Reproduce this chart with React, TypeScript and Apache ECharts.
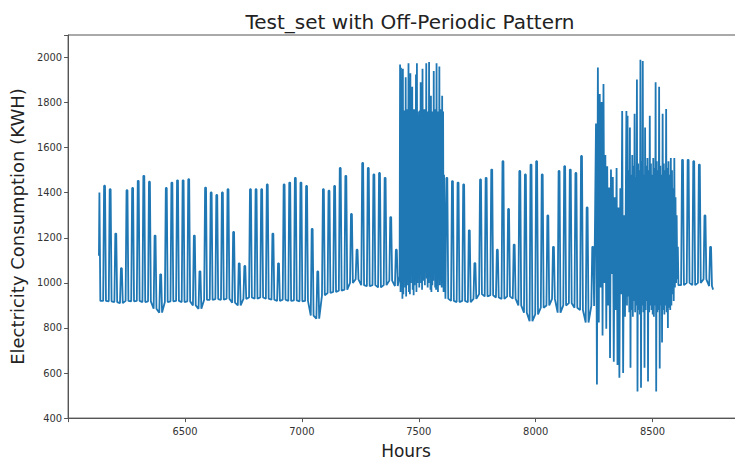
import React, { useEffect, useRef } from "react";
import * as echarts from "echarts";

// ---- data ----
const titleText = "Test_set with Off-Periodic Pattern";
const xAxisName = "Hours";
const yAxisName = "Electricity Consumption (KWH)";
const xTicks = [6500, 7000, 7500, 8000, 8500];
const yTicks = [400, 600, 800, 1000, 1200, 1400, 1600, 1800, 2000];

const startHour = 6132;
const startValue = 1120;
const endHour = 8759;
const endValue = 970;
const firstDay = 255; // day index of the year (hour / 24)

// daily peak / night trough (null = irregular period, see chaos arrays)
const dayPeak: (number | null)[] = [
  1401, 1431, 1416, 1219, 1065, // 255-259
  1411, 1421, 1453, 1475, 1449, 1210, 1038, // 260-266
  1421, 1445, 1455, 1455, 1460, 1210, 1051, // 267-273
  1423, 1401, 1390, 1401, 1416, 1226, 1087, // 274-280
  1075, 1416, 1416, 1416, 1437, 1219, 1087, // 281-287
  1437, 1445, 1466, 1445, 1430, 1240, 1051, // 288-294
  1416, 1409, 1430, 1510, 1475, 1306, 1147, // 295-301
  1532, 1510, 1481, 1488, 1466, 1292, 1147, // 302-308
  null, null, null, null, null, null, null, // 309-315
  null, 1466, 1452, 1445, 1437, 1233, 1088, // 316-322
  1459, 1466, 1503, 1147, 1540, 1328, 1170, // 323-329
  1497, 1481, 1525, 1540, 1481, 1299, 1160, // 330-336
  1497, 1518, 1503, 1488, 1563, 1335, 1160, // 337-343
  null, null, null, null, null, null, null, // 344-350
  null, null, null, null, null, null, null, // 351-357
  null, 1546, 1546, 1540, 1525, 1299, 1160, // 358-364
];
const dayLow: (number | null)[] = [
  920, 920, 918, 915, 910,
  920, 918, 920, 915, 918, 885, 868,
  915, 918, 920, 915, 918, 900, 885,
  925, 925, 928, 925, 930, 912, 900,
  929, 935, 930, 935, 930, 925, 920,
  925, 920, 922, 918, 920, 855, 841,
  945, 955, 960, 965, 970, 1000, 1016,
  990, 985, 990, 980, 990, 1010, 986,
  null, null, null, null, null, null, null,
  null, 930, 920, 915, 920, 914, 929,
  950, 940, 945, 935, 929, 940, 930,
  900, 868, 830, 860, 890, 900, 929,
  868, 900, 910, 890, 880, 824, 898,
  null, null, null, null, null, null, null,
  null, null, null, null, null, null, null,
  null, 990, 1000, 990, 1000, 1016, 986,
];

// irregular block 1 (around hours 7420-7605)
const chaos1Start = 7418;
const chaos1Peaks = [
  1969, 1955, 1760, 1950, 1765, 1740, 1912, 1760, 1770, 1975,
  1750, 1930, 1760, 1870, 1755, 1770, 1760, 1925, 1975, 1760,
  1745, 1765, 1890, 1760, 1950, 1740, 1770, 1755, 1975, 1760,
  1750, 1980, 1765, 1830, 1760, 1755, 1940, 1770, 1760, 1975,
  1760, 1745, 1960, 1770, 1750, 1830, 1760, 1480,
];
const chaos1Troughs = [
  1030, 960, 1000, 930, 950, 1010, 980, 940, 1020, 990,
  960, 950, 1000, 1040, 970, 945, 990, 1010, 960, 1000,
  1020, 980, 1040, 1000, 970, 1030, 1010, 990, 1050, 1020,
  980, 1000, 1030, 970, 960, 990, 1010, 1040, 980, 970,
  1000, 960, 1020, 990, 1010, 980, 1000, 960,
];

// irregular block 2, first (sparser) part (around hours 8258-8386)
const chaos2aStart = 8258;
const chaos2aPeaks = [1707, 1956, 1838, 1803, 1882, 1567, 1518, 1423, 1503, 1470, 1380, 1510, 1335, 1420, 1763, 1300];
const chaos2aTroughs = [549, 824, 980, 767, 1000, 797, 900, 667, 1040, 650, 880, 636, 579, 950, 600, 850];

// irregular block 2, dense part (around hours 8388-8613)
const chaos2bStart = 8388;
const chaos2bPeaks = [
  1763, 1742, 1500, 1690, 1480, 1567, 1520, 1750, 1470, 1903,
  1530, 1500, 1990, 1540, 1985, 1480, 1690, 1520, 1554, 1500,
  1742, 1530, 1480, 1554, 1510, 1890, 1540, 1500, 1870, 1520,
  1480, 1750, 1530, 1500, 1772, 1510, 1540, 1480, 1554, 1500,
  1420, 1554, 1380, 1300, 1160,
];
const chaos2bTroughs = [
  900, 940, 870, 623, 880, 850, 920, 870, 900, 518,
  880, 860, 535, 900, 870, 623, 880, 920, 562, 870,
  900, 880, 860, 850, 900, 518, 870, 880, 620, 900,
  736, 880, 860, 900, 870, 800, 890, 880, 900, 950,
  920, 980, 1000, 1016, 990,
];

function buildSeries(): [number, number][] {
  const pts: [number, number][] = [[startHour, startValue]];
  dayPeak.forEach((peak, i) => {
    const low = dayLow[i];
    if (peak == null || low == null) return;
    const base = (firstDay + i) * 24;
    const shape: [number, number][] = [
      [base + 6, low],
      [base + 10, peak],
      [base + 14, peak],
      [base + 18, low],
    ];
    shape.forEach((p) => {
      if (p[0] > startHour && p[0] < endHour) pts.push(p);
    });
  });
  chaos1Peaks.forEach((pk, i) => {
    pts.push([chaos1Start + i * 4, chaos1Troughs[i]]);
    pts.push([chaos1Start + i * 4 + 2, pk]);
  });
  chaos2aPeaks.forEach((pk, i) => {
    pts.push([chaos2aStart + i * 8, pk]);
    pts.push([chaos2aStart + i * 8 + 4, chaos2aTroughs[i]]);
  });
  chaos2bPeaks.forEach((pk, i) => {
    pts.push([chaos2bStart + i * 5, pk]);
    pts.push([chaos2bStart + i * 5 + 2.5, chaos2bTroughs[i]]);
  });
  pts.push([endHour, endValue]);
  pts.sort((a, b) => a[0] - b[0]);
  return pts;
}

export default function App() {
  const ref = useRef<HTMLDivElement>(null);
  useEffect(() => {
    if (!ref.current) return;
    const chart = echarts.init(ref.current, undefined, { renderer: "svg" });
    const tickFont = "'Liberation Sans Narrow', 'DejaVu Sans Condensed', 'Liberation Sans', sans-serif";
    chart.setOption({
      animation: false,
      backgroundColor: "#ffffff",
      title: {
        text: titleText,
        left: 405,
        top: 7,
        textAlign: "center",
        textStyle: { fontFamily: "DejaVu Sans", fontSize: 20, fontWeight: "normal", color: "#222" },
      },
      grid: {
        left: 66,
        top: 35,
        width: 678,
        height: 389,
        show: true,
        borderColor: "#555",
        borderWidth: 1,
        backgroundColor: "transparent",
      },
      xAxis: {
        type: "value",
        min: 6000,
        max: 8891,
        interval: 500,
        name: xAxisName,
        nameLocation: "middle",
        nameGap: 22,
        nameTextStyle: { fontFamily: "DejaVu Sans", fontSize: 17, color: "#222" },
        axisLine: { show: true, lineStyle: { color: "#555", width: 1 } },
        axisTick: { show: true, length: 4, lineStyle: { color: "#555" } },
        splitLine: { show: false },
        axisLabel: {
          margin: 8,
          fontFamily: tickFont,
          fontSize: 11,
          color: "#333",
          formatter: (v: number) => (xTicks.indexOf(v) >= 0 ? String(v) : ""),
        },
      },
      yAxis: {
        type: "value",
        min: 400,
        max: 2100,
        interval: 200,
        name: yAxisName,
        nameLocation: "middle",
        nameGap: 38,
        nameTextStyle: { fontFamily: "DejaVu Sans", fontSize: 18, color: "#222" },
        axisLine: { show: true, lineStyle: { color: "#555", width: 1 } },
        axisTick: { show: true, length: 4, lineStyle: { color: "#555" } },
        splitLine: { show: false },
        axisLabel: {
          margin: 6,
          fontFamily: tickFont,
          fontSize: 11,
          color: "#333",
          formatter: (v: number) => (yTicks.indexOf(v) >= 0 ? String(v) : ""),
        },
      },
      series: [
        {
          type: "line",
          data: buildSeries(),
          showSymbol: false,
          symbol: "none",
          lineStyle: { color: "#1f77b4", width: 1.8 },
          itemStyle: { color: "#1f77b4" },
        },
      ],
    });
    return () => chart.dispose();
  }, []);
  return (
    <div style={{ position: "fixed", left: 0, top: 0, width: 735, height: 464, overflow: "hidden", background: "#fff" }}>
      <div ref={ref} style={{ width: 760, height: 464 }} />
    </div>
  );
}
